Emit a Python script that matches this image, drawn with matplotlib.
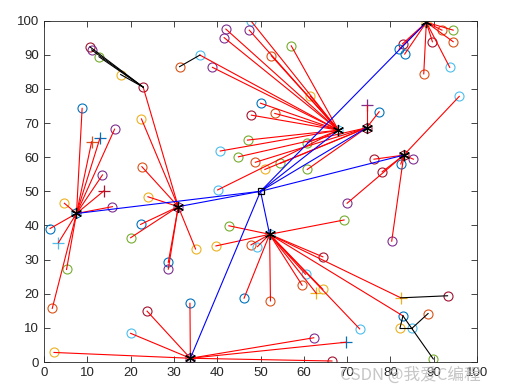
import matplotlib
matplotlib.use("Agg")
import matplotlib.pyplot as plt

# MATLAB default colour order
COLORS = ["#0072BD", "#D95319", "#EDB120", "#7E2F8E", "#77AC30", "#4DBEEE", "#A2142F"]

# ---------------- cluster heads ----------------
ch_x = [7.5, 31.0, 33.8, 52.1, 68.0, 74.5, 83.1, 88.3]
ch_y = [43.5, 45.5, 1.1, 37.4, 67.9, 68.6, 60.6, 99.5]
ch_color = [0, 3, 3, 5, 5, 6, 6, 2]

sink_x, sink_y = 50.0, 50.0

# ---------------- ordinary nodes ----------------
node_x = [8.8, 11.0, 12.9, 16.3, 13.5, 13.9, 4.7, 15.8, 1.4, 3.3, 5.2, 1.9,
          22.9, 22.5, 22.6, 24.0, 22.3, 20.0, 35.0, 28.7, 28.7,
          23.8, 20.0, 2.3, 33.7, 62.3, 69.8, 66.5,
          42.7, 39.7, 47.8, 49.3, 46.2, 69.3, 64.4, 60.4, 59.6, 62.9, 64.4, 52.3, 72.9, 82.4, 82.9,
          47.8, 42.0, 41.6, 47.4, 36.0, 38.9, 57.1, 52.5, 61.5, 50.0, 53.3, 47.9, 47.0, 40.7, 60.8, 40.1,
          44.9, 48.8, 51.0, 54.6, 60.8, 74.5, 77.4,
          95.9, 76.2, 85.3, 82.4, 78.1, 70.0, 80.3,
          91.9, 94.5, 94.5, 89.7, 93.7, 87.7, 82.8, 82.0, 83.3,
          10.6, 11.0, 12.7, 17.7, 31.3, 93.2, 89.9, 82.2, 85.0, 88.7]
node_y = [74.3, 64.5, 65.5, 68.2, 54.8, 50.2, 46.5, 45.5, 39.1, 34.9, 27.1, 15.7,
          80.5, 71.2, 57.2, 48.4, 40.3, 36.4, 33.1, 29.2, 27.2,
          14.9, 8.4, 2.8, 17.2, 7.1, 5.8, 0.3,
          39.9, 34.0, 34.3, 33.8, 18.7, 41.6, 30.8, 25.7, 22.5, 20.1, 21.3, 17.9, 9.7, 18.8, 13.5,
          99.9, 97.5, 95.0, 97.2, 89.9, 86.3, 92.6, 89.7, 77.9, 75.8, 72.8, 72.3, 65.0, 61.8, 64.2, 50.4,
          60.1, 58.5, 56.4, 58.2, 56.4, 75.4, 73.3,
          77.8, 59.4, 59.4, 58.0, 55.7, 46.5, 35.4,
          97.2, 97.2, 93.8, 93.8, 86.3, 84.4, 93.2, 91.6, 90.2,
          92.3, 91.4, 89.4, 84.2, 86.5, 19.4, 0.9, 9.9, 9.9, 14.2]
node_color = [0, 1, 0, 3, 3, 6, 2, 3, 0, 5, 4, 1,
              6, 2, 1, 2, 0, 4, 2, 0, 3,
              6, 5, 2, 0, 3, 0, 6,
              4, 2, 1, 5, 0, 4, 6, 5, 1, 2, 2, 1, 5, 2, 0,
              5, 3, 3, 3, 5, 3, 4, 1, 2, 0, 1, 6, 4, 5, 4, 5,
              4, 1, 2, 4, 4, 3, 0,
              5, 6, 3, 0, 6, 3, 3,
              1, 4, 1, 6, 5, 1, 6, 0, 0,
              6, 3, 4, 2, 1, 6, 4, 2, 5, 1]
node_marker = ["o", "+", "+", "o", "o", "+", "o", "o", "o", "+", "o", "o",
               "o", "o", "o", "o", "o", "o", "o", "o", "o",
               "o", "o", "o", "o", "o", "+", "o",
               "o", "o", "o", "o", "o", "o", "o", "o", "o", "+", "o", "o", "o", "+", "o",
               "o", "o", "o", "o", "o", "o", "o", "o", "o", "o", "o", "o", "o", "o", "o", "o",
               "o", "o", "o", "o", "o", "+", "o",
               "o", "o", "o", "o", "o", "o", "o",
               "o", "o", "o", "o", "o", "o", "o", "o", "o",
               "o", "o", "o", "o", "o", "o", "o", "o", "o", "o"]
# cluster head each node reports to (-1 = goes through another node)
node_ch = [0] * 12 + [1] * 9 + [2] * 7 + [3] * 15 + [4] * 16 + [5] * 7 + [6] * 7 + [7] * 9 + [-1] * 10
# next-hop node for relayed nodes (black links)
node_hop = [-1] * 82 + [12, 12, 12, 12, 47, 41, 42, 42, 89, 90]

fig = plt.figure(figsize=(5.06, 3.92), dpi=100)
ax = fig.add_axes([0.087, 0.0765, 0.8557, 0.871])

for x, y, c, m in zip(node_x, node_y, node_color, node_marker):
    if m == "o":
        ax.plot(x, y, "o", mfc="none", mec=COLORS[c], ms=6.5, mew=0.8)
    else:
        ax.plot(x, y, "+", color=COLORS[c], ms=8, mew=0.9)
for x, y, c in zip(ch_x, ch_y, ch_color):
    ax.plot(x, y, "o", mfc="none", mec=COLORS[c], ms=6.5, mew=0.8)

# member -> cluster head
for i in range(len(node_x)):
    k = node_ch[i]
    if k >= 0:
        ax.plot([node_x[i], ch_x[k]], [node_y[i], ch_y[k]], color="red", lw=0.8)
    j = node_hop[i]
    if j >= 0:
        ax.plot([node_x[i], node_x[j]], [node_y[i], node_y[j]], color="black", lw=0.8)

# cluster head -> sink
for x, y in zip(ch_x, ch_y):
    ax.plot([x, sink_x], [y, sink_y], color="blue", lw=0.8)

# asterisk like MATLAB '*'
ax.plot(ch_x, ch_y, marker=(6, 2, 0), color="black", ms=8, mew=0.9, ls="none")
ax.plot(sink_x, sink_y, "s", mfc="none", mec="black", ms=5, mew=0.9)

ax.set_xlim(0, 100)
ax.set_ylim(0, 100)
ax.set_xticks(range(0, 101, 10))
ax.set_yticks(range(0, 101, 10))
ax.tick_params(direction="in", top=True, right=True, labelsize=9.5, length=4, width=0.6,
               colors="#262626", labelcolor="#262626")
for s in ax.spines.values():
    s.set_linewidth(0.6)
    s.set_color("#262626")
for lab in ax.get_xticklabels() + ax.get_yticklabels():
    lab.set_family(["Liberation Sans", "DejaVu Sans"])

fig.text(0.81, 0.043, "CSDN @我爱C编程", fontsize=12, color="#b8b8b8", alpha=0.8,
         ha="center", va="center", family=["Noto Sans CJK SC", "DejaVu Sans"])

fig.savefig("out.png", dpi=100)
